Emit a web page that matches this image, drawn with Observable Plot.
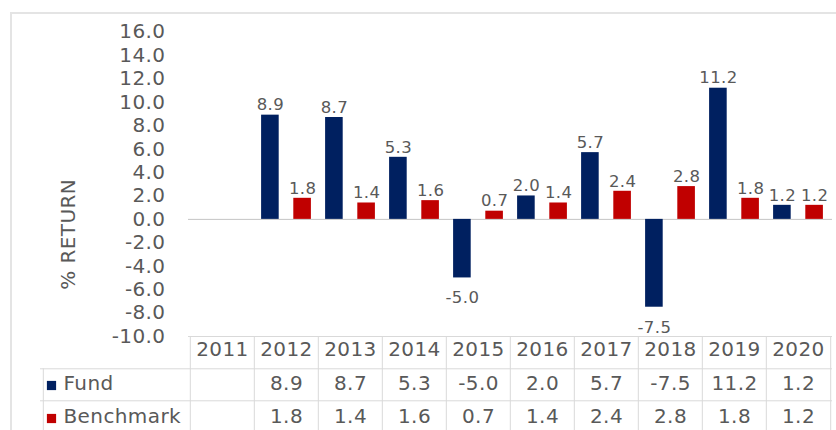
<!DOCTYPE html>
<html>
<head>
<meta charset="utf-8">
<script src="https://cdn.jsdelivr.net/npm/d3@7"></script>
<script src="https://cdn.jsdelivr.net/npm/@observablehq/plot@0.6"></script>
<style>
  html, body { margin: 0; padding: 0; background: #fff; }
  #wrap { position: relative; width: 836px; height: 430px; overflow: hidden; }
  #border { position: absolute; left: 10px; top: 12px; width: 900px; height: 500px;
            border: 2px solid #e4e4e4; pointer-events: none; }
</style>
</head>
<body>
<div id="wrap"><div id="border"></div></div>
<script>
const years = ["2011", "2012", "2013", "2014", "2015", "2016", "2017", "2018", "2019", "2020"];
const fund = [null, 8.9, 8.7, 5.3, -5.0, 2.0, 5.7, -7.5, 11.2, 1.2];
const benchmark = [null, 1.8, 1.4, 1.6, 0.7, 1.4, 2.4, 2.8, 1.8, 1.2];
const yTicks = [-10, -8, -6, -4, -2, 0, 2, 4, 6, 8, 10, 12, 14, 16];
const seriesNames = ["Fund", "Benchmark"];
const seriesColors = ["#002060", "#c00000"];

const rows = years.map((year, i) => ({year, fund: fund[i], benchmark: benchmark[i]}));
const fmt = v => v.toFixed(1);

const W = 836, H = 430;
const mL = 188, mR = 4, mT = 31.5, mB = 94;
const bw = (W - mL - mR) / years.length;
const barW = 18;
const sub = bw / 4;
const inNear = sub - barW / 2;
const inFar = bw - inNear - barW;
const grid = "#d9d9d9";
const textCol = "#595959";
const FS = 20;
const rowDy = [19.5, 53, 86];
const lineDy = [32.3, 64.3];

const fundRows = rows.filter(d => d.fund != null);
const benchRows = rows.filter(d => d.benchmark != null);

const chart = Plot.plot({
  width: W, height: H,
  marginLeft: mL, marginRight: mR, marginTop: mT, marginBottom: mB,
  x: {domain: years, padding: 0, axis: null},
  y: {domain: [-10, 16]},
  style: {fontFamily: "DejaVu Sans, Verdana, sans-serif", fontSize: FS + "px", letterSpacing: "0.4px", color: textCol, background: "#fff", overflow: "visible"},
  marks: [
    Plot.axisY({ticks: yTicks, tickFormat: fmt, tickSize: 0, tickPadding: 23, label: null, fontSize: FS, fill: textCol}),
    Plot.text(["% RETURN"], {frameAnchor: "left", textAnchor: "middle", rotate: -90, dx: -120, dy: 50, fontSize: FS, fill: textCol}),
    // table lines
    Plot.ruleY([-10], {stroke: grid}),
    Plot.ruleY([-10], {dy: lineDy[0], stroke: grid, insetLeft: -148}),
    Plot.ruleY([-10], {dy: lineDy[1], stroke: grid, insetLeft: -148}),
    Plot.ruleX(years, {x: d => d, y1: -10, y2: -10, insetBottom: -100, dx: -bw / 2, stroke: grid}),
    Plot.ruleX([years[years.length - 1]], {x: d => d, y1: -10, y2: -10, insetBottom: -100, dx: bw / 2, stroke: grid}),
    Plot.ruleX([years[0]], {x: d => d, y1: -10, y2: -10, insetTop: lineDy[0], insetBottom: -100, dx: -bw / 2 - 147, stroke: grid}),
    // zero line
    Plot.ruleY([0], {stroke: "#c4c4c4"}),
    // bars
    Plot.barY(fundRows, {x: "year", y: "fund", fill: seriesColors[0], insetLeft: inNear, insetRight: inFar}),
    Plot.barY(benchRows, {x: "year", y: "benchmark", fill: seriesColors[1], insetLeft: inFar, insetRight: inNear}),
    // data labels
    Plot.text(fundRows.filter(d => d.fund >= 0), {x: "year", y: "fund", text: d => fmt(d.fund), dx: -sub, dy: -10, fontSize: 16.5, fill: textCol}),
    Plot.text(fundRows.filter(d => d.fund < 0), {x: "year", y: "fund", text: d => fmt(d.fund), dx: -sub, dy: 20, fontSize: 16.5, fill: textCol}),
    Plot.text(benchRows.filter(d => d.benchmark >= 0), {x: "year", y: "benchmark", text: d => fmt(d.benchmark), dx: sub, dy: -10, fontSize: 16.5, fill: textCol}),
    Plot.text(benchRows.filter(d => d.benchmark < 0), {x: "year", y: "benchmark", text: d => fmt(d.benchmark), dx: sub, dy: 20, fontSize: 16.5, fill: textCol}),
    // table
    Plot.text(years, {x: d => d, text: d => d, frameAnchor: "bottom", dy: rowDy[0], fontSize: FS, fill: textCol}),
    Plot.text(fundRows, {x: "year", text: d => fmt(d.fund), frameAnchor: "bottom", dy: rowDy[1], fontSize: FS, fill: textCol}),
    Plot.text(benchRows, {x: "year", text: d => fmt(d.benchmark), frameAnchor: "bottom", dy: rowDy[2], fontSize: FS, fill: textCol}),
    Plot.text([seriesNames[0]], {frameAnchor: "bottom-left", textAnchor: "start", dx: 63 - mL, dy: rowDy[1], fontSize: FS, fill: textCol}),
    Plot.text([seriesNames[1]], {frameAnchor: "bottom-left", textAnchor: "start", dx: 63 - mL, dy: rowDy[2], fontSize: FS, fill: textCol}),
    Plot.dot([seriesNames[0]], {frameAnchor: "bottom-left", symbol: "square", r: 5.2, fill: seriesColors[0], dx: 51 - mL, dy: 49}),
    Plot.dot([seriesNames[1]], {frameAnchor: "bottom-left", symbol: "square", r: 5.2, fill: seriesColors[1], dx: 51 - mL, dy: 82})
  ]
});
document.getElementById("wrap").prepend(chart);
</script>
</body>
</html>
